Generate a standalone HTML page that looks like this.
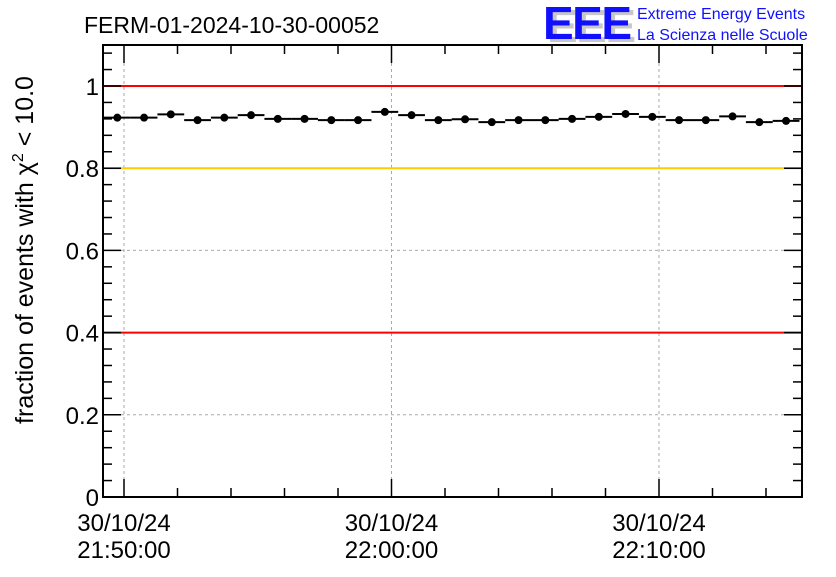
<!DOCTYPE html>
<html><head><meta charset="utf-8"><style>
body{margin:0;background:#fff;}
svg text{font-family:"Liberation Sans",sans-serif;}
</style></head><body>
<svg id="chart" width="836" height="572" xmlns="http://www.w3.org/2000/svg">
<rect width="836" height="572" fill="#fff"/>
<text x="84" y="33" font-size="23">FERM-01-2024-10-30-00052</text>
<g>
<text x="547" y="42" font-size="46" font-weight="bold" fill="#c8c8c8" letter-spacing="-3" textLength="86">EEE</text>
<text x="543" y="39" font-size="46" font-weight="bold" fill="#1010ff" letter-spacing="-3" textLength="86">EEE</text>
<text x="637" y="19" font-size="16" fill="#1010ff">Extreme Energy Events</text>
<text x="637" y="40" font-size="16" fill="#1010ff">La Scienza nelle Scuole</text>
</g>
<g id="plot"></g>
<text transform="translate(33,250) rotate(-90)" text-anchor="middle" font-size="25">fraction of events with χ<tspan dy="-10" font-size="16">2</tspan><tspan dy="10"> &lt; 10.0</tspan></text>
</svg>
<script>
const minutes=[0,1,2,3,4,5,6,7,8,9,10,11,12,13,14,15,16,17,18,19,20,21,22,23,24,25];
const values=[0.923,0.923,0.931,0.917,0.923,0.929,0.920,0.920,0.917,0.917,0.937,0.929,0.917,0.919,0.912,0.917,0.917,0.920,0.925,0.932,0.925,0.917,0.917,0.926,0.912,0.915];
const yTicks=[0,0.2,0.4,0.6,0.8,1];
const yTickLabels=["0","0.2","0.4","0.6","0.8","1"];
const xTickMinutes=[0,10,20];
const xTickLabels=[["30/10/24","21:50:00"],["30/10/24","22:00:00"],["30/10/24","22:10:00"]];
const refLines=[{v:1,c:"#ff0000"},{v:0.8,c:"#ffcc00"},{v:0.4,c:"#ff0000"}];
const firstOffset=-0.25;
const L=103,R=802,T=45,B=497;
const X=m=>124+m*26.75;
const Y=v=>B-v*411;
const NS="http://www.w3.org/2000/svg";
const g=document.getElementById('plot');
function el(t,a,p){const e=document.createElementNS(NS,t);for(const k in a)e.setAttribute(k,a[k]);(p||g).appendChild(e);return e;}
yTicks.forEach(v=>{const l=el('line',{x1:L,x2:R,y1:Y(v),y2:Y(v),stroke:'#aaa','stroke-dasharray':'3,3'});

});
xTickMinutes.forEach(m=>{const l=el('line',{x1:X(m),x2:X(m),y1:T,y2:B,stroke:'#aaa','stroke-dasharray':'3,3'});

});
refLines.forEach(r=>{const l=el('line',{x1:L,x2:R,y1:Y(r.v),y2:Y(r.v),stroke:r.c,'stroke-width':2});

});
const fr=el('rect',{x:L,y:T,width:R-L,height:B-T,fill:'none',stroke:'#000','stroke-width':2});


for(let v=0;v<=1.1001;v+=0.04){const len=(Math.abs(v/0.2-Math.round(v/0.2))<0.01)?18:9;
el('line',{x1:L,x2:L+len,y1:Y(v),y2:Y(v),stroke:'#000','stroke-width':1.5});
el('line',{x1:R,x2:R-len,y1:Y(v),y2:Y(v),stroke:'#000','stroke-width':1.5});}
yTicks.forEach((v,i)=>{const t=el('text',{x:L-4,y:Y(v)+9,'text-anchor':'end','font-size':24});t.textContent=yTickLabels[i];

});
for(let m=0;m<=26;m+=2){const x=X(m);if(x<L||x>R)continue;const len=(m%10===0)?18:9;
el('line',{x1:x,x2:x,y1:B,y2:B-len,stroke:'#000','stroke-width':1.5});
el('line',{x1:x,x2:x,y1:T,y2:T+len,stroke:'#000','stroke-width':1.5});}
xTickMinutes.forEach((m,i)=>{const t=el('text',{x:X(m),y:531,'text-anchor':'middle','font-size':24});t.textContent=xTickLabels[i][0];


const t2=el('text',{x:X(m),y:558,'text-anchor':'middle','font-size':24});t2.textContent=xTickLabels[i][1];

});
minutes.forEach((m,i)=>{const x=X(m+firstOffset),y=Y(values[i]);
const l=el('line',{x1:x-13.4,x2:x+13.4,y1:y,y2:y,stroke:'#000','stroke-width':2});


const c=el('circle',{cx:x,cy:y,r:4,fill:'#000'});

});
</script>
</body></html>
